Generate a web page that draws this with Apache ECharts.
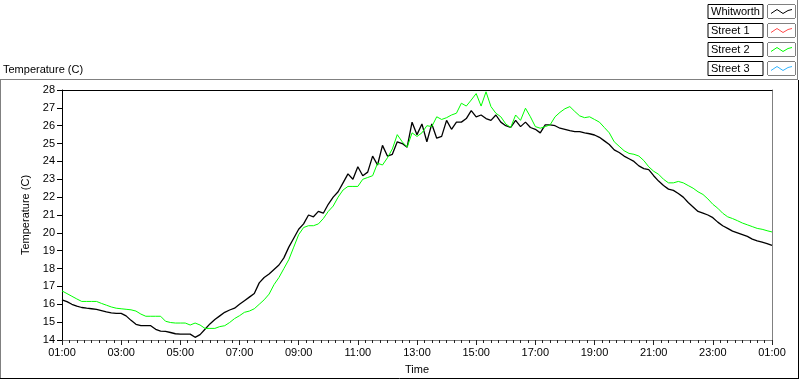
<!DOCTYPE html>
<html>
<head>
<meta charset="utf-8">
<script src="https://cdn.jsdelivr.net/npm/echarts@6/dist/echarts.min.js"></script>
<style>
html, body { margin: 0; padding: 0; background: #fff; }
#chart { width: 800px; height: 380px; }
</style>
</head>
<body>
<div id="chart"></div>
<script>
// series shown in the legend
const seriesNames = ['Whitworth', 'Street 1', 'Street 2', 'Street 3'];
const seriesColors = ['#000000', '#ff4b4b', '#00ff00', '#33b5ff'];

// x axis: minutes since 01:00, one reading every 10 minutes
const stepMinutes = 10;
const xTickLabels = ['01:00', '03:00', '05:00', '07:00', '09:00', '11:00', '13:00',
    '15:00', '17:00', '19:00', '21:00', '23:00', '01:00'];

// temperatures (C), 01:00 -> 01:00 next day
const whitworth = [
    16.25, 16.15, 16.0, 15.9, 15.82, 15.78, 15.75, 15.72, 15.65, 15.58, 15.52, 15.49,
    15.49, 15.35, 15.1, 14.88, 14.8, 14.8, 14.8, 14.6, 14.5, 14.48, 14.42, 14.35,
    14.33, 14.33, 14.33, 14.15, 14.3, 14.6, 14.9, 15.15, 15.35, 15.55, 15.68, 15.78,
    16.0, 16.2, 16.4, 16.6, 17.2, 17.5, 17.7, 17.95, 18.2, 18.6, 19.2, 19.7,
    20.2, 20.5, 21.0, 20.9, 21.2, 21.1, 21.6, 22.0, 22.3, 22.8, 23.3, 23.0,
    23.7, 23.2, 23.4, 24.3, 23.8, 24.9, 24.3, 24.4, 25.1, 25.0, 24.8, 26.2,
    25.5, 26.1, 25.1, 26.1, 25.3, 25.4, 26.3, 25.8, 26.2, 26.2, 26.4, 26.85,
    26.5, 26.6, 26.4, 26.3, 26.6, 26.2, 26.0, 25.9, 26.3, 25.95, 26.2, 25.9,
    25.8, 25.6, 26.05, 26.05, 26.0, 25.86, 25.8, 25.72, 25.67, 25.67, 25.6, 25.55,
    25.48, 25.35, 25.15, 24.95, 24.65, 24.5, 24.3, 24.15, 24.0, 23.75, 23.6, 23.54,
    23.2, 22.9, 22.65, 22.45, 22.38, 22.2, 22.0, 21.7, 21.45, 21.2, 21.1, 21.0,
    20.85, 20.6, 20.4, 20.25, 20.1, 20.0, 19.9, 19.8, 19.65, 19.55, 19.48, 19.4,
    19.3
];
const street1 = [];
const street2 = [
    16.75, 16.6, 16.45, 16.3, 16.16, 16.16, 16.16, 16.16, 16.05, 15.95, 15.85, 15.78,
    15.75, 15.72, 15.69, 15.62, 15.45, 15.33, 15.33, 15.33, 15.33, 15.05, 14.98, 14.95,
    14.95, 14.95, 14.84, 14.95, 14.84, 14.65, 14.65, 14.65, 14.75, 14.8, 14.98, 15.2,
    15.36, 15.55, 15.62, 15.75, 16.0, 16.25, 16.57, 17.1, 17.5, 18.0, 18.5, 19.2,
    19.9, 20.3, 20.4, 20.4, 20.5, 20.8, 21.2, 21.5, 22.0, 22.4, 22.6, 22.6,
    22.6, 23.0, 23.1, 23.2, 23.9, 23.8, 24.2, 24.7, 25.5, 25.1, 24.8, 25.6,
    25.4, 25.6, 26.0, 25.95, 26.5, 26.35, 26.45, 26.6, 26.7, 27.26, 27.1, 27.44,
    27.8, 27.1, 27.9, 27.07, 26.7, 26.5, 26.1, 25.9, 26.6, 26.3, 26.98, 26.5,
    25.95, 25.86, 25.95, 26.05, 26.5, 26.75, 26.95, 27.07, 26.8, 26.55, 26.45, 26.5,
    26.35, 26.2, 25.9, 25.6, 25.1, 24.85, 24.6, 24.45, 24.4, 24.3, 24.05, 23.7,
    23.45, 23.28, 23.0, 22.8, 22.8, 22.88, 22.8, 22.65, 22.5, 22.3, 22.15, 21.9,
    21.6, 21.38, 21.1, 20.9, 20.8, 20.68, 20.55, 20.45, 20.35, 20.25, 20.2, 20.12,
    20.05
];
const street3 = [];
const seriesValues = [whitworth, street1, street2, street3];

const FONT = 'Liberation Sans';

// little zigzag sample drawn inside each legend swatch box
function swatch(color) {
    const c = document.createElement('canvas');
    c.width = 27;
    c.height = 13;
    const g = c.getContext('2d');
    g.fillStyle = '#fff';
    g.fillRect(0, 0, 27, 13);
    g.strokeStyle = color;
    g.lineWidth = 1;
    g.beginPath();
    g.moveTo(3, 8.5);
    g.lineTo(9, 4.5);
    g.lineTo(15, 8.5);
    g.lineTo(20, 5.5);
    g.lineTo(24, 4.5);
    g.stroke();
    return c;
}

const rich = {
    t: {
        width: 51, height: 13, padding: [1, 1, 0, 3],
        borderColor: '#000', borderWidth: 1,
        fontFamily: FONT, fontSize: 11, color: '#000'
    },
    g: { width: 5 }
};
seriesColors.forEach((col, i) => {
    rich['i' + i] = {
        width: 27, height: 13, borderColor: '#000', borderWidth: 1,
        backgroundColor: { image: swatch(col) }
    };
});

const chart = echarts.init(document.getElementById('chart'));

chart.setOption({
    animation: false,
    backgroundColor: '#fff',
    title: {
        text: 'Temperature (C)',
        left: 3,
        top: 64,
        padding: 0,
        textStyle: { fontFamily: FONT, fontSize: 11, fontWeight: 'normal', color: '#000' }
    },
    legend: {
        orient: 'vertical',
        left: 703,
        top: 4,
        padding: 0,
        itemGap: 4,
        icon: 'none',
        itemWidth: 0,
        itemHeight: 14,
        selectedMode: false,
        data: seriesNames,
        formatter: name => `{t|${name}}{g| }{i${seriesNames.indexOf(name)}| }`,
        textStyle: { rich: rich }
    },
    grid: { left: 62, right: 28, top: 90, bottom: 39 },
    xAxis: [{
        type: 'value',
        min: 0,
        max: 1440,
        interval: 120,
        name: 'Time',
        nameLocation: 'middle',
        nameGap: 24,
        nameTextStyle: { fontFamily: FONT, fontSize: 11, color: '#000' },
        axisLine: { onZero: false, lineStyle: { color: '#808080', width: 1 } },
        axisTick: { length: 5, lineStyle: { color: '#222' } },
        minorTick: { show: true, splitNumber: 8, length: 3, lineStyle: { color: '#222' } },
        splitLine: { show: false },
        axisLabel: {
            margin: 7,
            fontFamily: FONT, fontSize: 11, color: '#000',
            formatter: v => xTickLabels[Math.round(v / 120)]
        }
    }, {
        type: 'value',
        position: 'top',
        min: 0,
        max: 1440,
        axisLine: { onZero: false, lineStyle: { color: '#000', width: 1 } },
        axisTick: { show: false },
        axisLabel: { show: false },
        splitLine: { show: false }
    }],
    yAxis: [{
        type: 'value',
        min: 14,
        max: 28,
        interval: 1,
        name: 'Temperature (C)',
        nameLocation: 'middle',
        nameGap: 23,
        nameRotate: 90,
        nameTextStyle: { fontFamily: FONT, fontSize: 11, color: '#000' },
        axisLine: { show: true, onZero: false, lineStyle: { color: '#000', width: 1 } },
        axisTick: { show: true, length: 5, lineStyle: { color: '#000' } },
        splitLine: { show: false },
        axisLabel: { margin: 7, fontFamily: FONT, fontSize: 11, color: '#000' }
    }, {
        type: 'value',
        position: 'right',
        min: 14,
        max: 28,
        axisLine: { show: true, onZero: false, lineStyle: { color: '#808080', width: 1 } },
        axisTick: { show: false },
        axisLabel: { show: false },
        splitLine: { show: false }
    }],
    graphic: [
        // outer panel frame
        { type: 'line', silent: true, shape: { x1: 0, y1: 79.5, x2: 798, y2: 79.5 }, style: { stroke: '#808080', lineWidth: 1 } },
        { type: 'line', silent: true, shape: { x1: 0.5, y1: 80, x2: 0.5, y2: 379 }, style: { stroke: '#808080', lineWidth: 1 } },
        { type: 'line', silent: true, shape: { x1: 0, y1: 378.5, x2: 799, y2: 378.5 }, style: { stroke: '#000', lineWidth: 1 } },
        { type: 'line', silent: true, shape: { x1: 798.5, y1: 80, x2: 798.5, y2: 379 }, style: { stroke: '#000', lineWidth: 1 } },
        // legend panel edge
        { type: 'line', silent: true, shape: { x1: 797.5, y1: 0, x2: 797.5, y2: 80 }, style: { stroke: '#808080', lineWidth: 1 } }
    ],
    series: seriesNames.map((name, i) => ({
        name: name,
        type: 'line',
        showSymbol: false,
        symbol: 'none',
        color: seriesColors[i],
        lineStyle: { color: seriesColors[i], width: i === 0 ? 1.3 : 1 },
        data: seriesValues[i].map((v, k) => [k * stepMinutes, v])
    }))
});
</script>
</body>
</html>
